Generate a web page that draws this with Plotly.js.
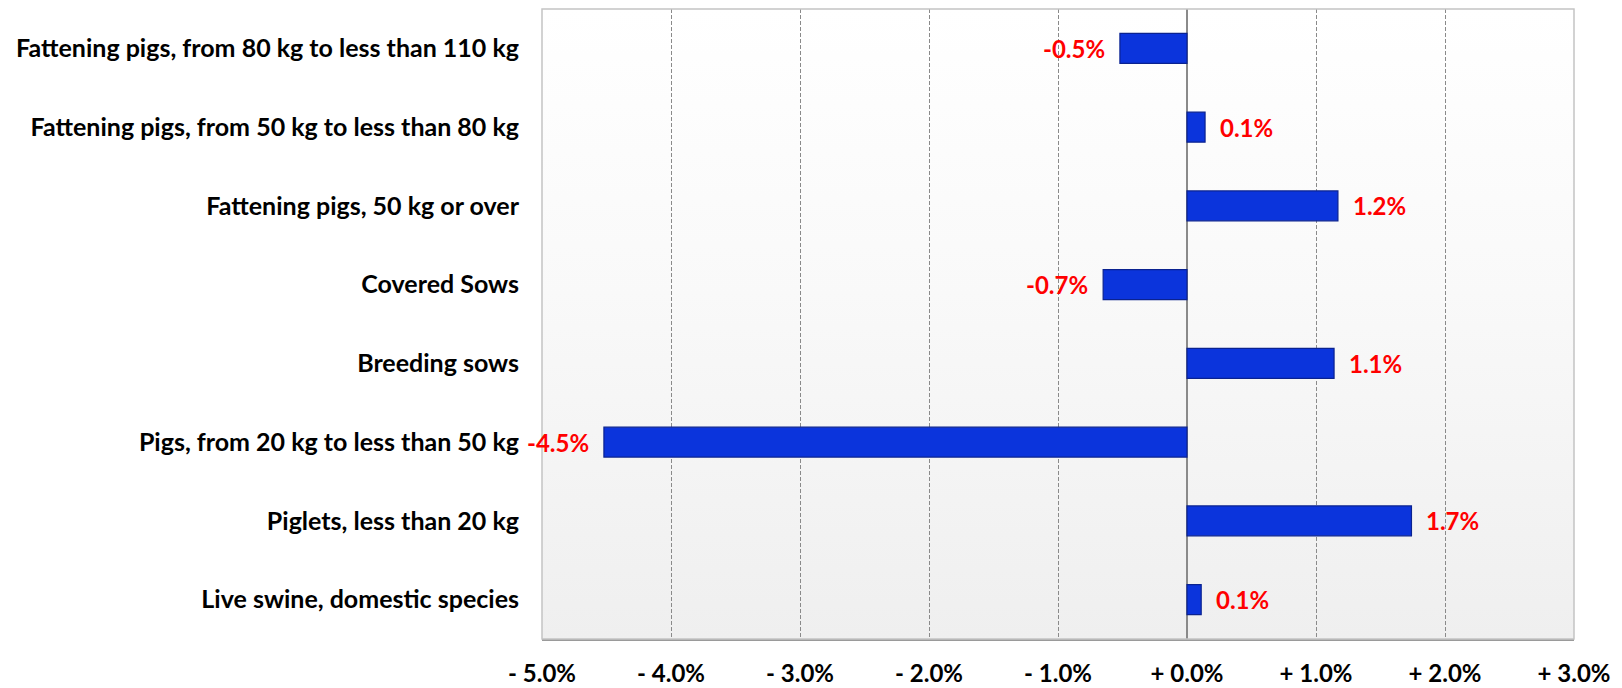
<!DOCTYPE html>
<html>
<head>
<meta charset="utf-8">
<script src="https://cdn.plot.ly/plotly-3.0.1.min.js"></script>
<style>
html,body{margin:0;padding:0;background:#fff;}
#chart{width:1622px;height:688px;}
</style>
</head>
<body>
<div id="chart"></div>
<script>
// Categories, top to bottom
const categories = [
  "Fattening pigs, from 80 kg to less than 110 kg",
  "Fattening pigs, from 50 kg to less than 80 kg",
  "Fattening pigs, 50 kg or over",
  "Covered Sows",
  "Breeding sows",
  "Pigs, from 20 kg to less than 50 kg",
  "Piglets, less than 20 kg",
  "Live swine, domestic species"
];
// Percentage change values
const values = [-0.52, 0.14, 1.17, -0.65, 1.14, -4.52, 1.74, 0.11];
// Data labels as printed
const labels = ["-0.5%", "0.1%", "1.2%", "-0.7%", "1.1%", "-4.5%", "1.7%", "0.1%"];
// X axis ticks
const tickValues = [-5, -4, -3, -2, -1, 0, 1, 2, 3];
const tickLabels = ["- 5.0%", "- 4.0%", "- 3.0%", "- 2.0%", "- 1.0%", "+ 0.0%", "+ 1.0%", "+ 2.0%", "+ 3.0%"];

const FONT = "Lato, 'Open Sans', sans-serif";

const trace = {
  type: "bar",
  orientation: "h",
  x: values,
  y: categories,
  width: 0.38,
  marker: {
    color: "#0b34dc",
    line: {color: "#0a2290", width: 1.2}
  },
  hoverinfo: "x+y"
};

const annotations = values.map((v, i) => ({
  x: v,
  y: categories[i],
  xref: "x",
  yref: "y",
  text: labels[i],
  showarrow: false,
  xanchor: v >= 0 ? "left" : "right",
  xshift: v >= 0 ? 13 : -13,
  font: {family: FONT, size: 24, color: "#ff0000", weight: "bold"}
}));

const gradSvg = "<svg xmlns='http://www.w3.org/2000/svg' width='10' height='100' preserveAspectRatio='none'>" +
  "<defs><linearGradient id='g' x1='0' y1='0' x2='0' y2='1'>" +
  "<stop offset='0' stop-color='#ffffff'/><stop offset='0.45' stop-color='#f9f9f9'/><stop offset='1' stop-color='#efefef'/>" +
  "</linearGradient></defs><rect width='10' height='100' fill='url(#g)'/></svg>";

const layout = {
  width: 1622,
  height: 688,
  margin: {l: 542, r: 48, t: 9, b: 49},
  paper_bgcolor: "#ffffff",
  plot_bgcolor: "rgba(0,0,0,0)",
  showlegend: false,
  font: {family: FONT, color: "#000"},
  xaxis: {
    range: [-5, 3],
    tickmode: "array",
    tickvals: tickValues,
    ticktext: tickLabels,
    tickfont: {family: FONT, size: 24, color: "#000", weight: "bold"},
    ticks: "",
    ticklabelstandoff: 12,
    showgrid: true,
    gridcolor: "#8a8a8a",
    griddash: "4px,2px",
    gridwidth: 1,
    zeroline: true,
    zerolinecolor: "#8a8a8a",
    zerolinewidth: 1.5,
    showline: true,
    linecolor: "#9a9a9a",
    linewidth: 2,
    fixedrange: true
  },
  yaxis: {
    autorange: "reversed",
    type: "category",
    tickfont: {family: FONT, size: 25, color: "#000", weight: "bold"},
    ticks: "",
    ticklabelstandoff: 22,
    showgrid: false,
    zeroline: false,
    showline: false,
    fixedrange: true
  },
  images: [{
    source: "data:image/svg+xml;charset=utf-8," + encodeURIComponent(gradSvg),
    xref: "paper", yref: "paper",
    x: 0, y: 1, sizex: 1, sizey: 1,
    xanchor: "left", yanchor: "top",
    sizing: "stretch",
    layer: "below"
  }],
  shapes: [{
    type: "rect", xref: "paper", yref: "paper",
    x0: 0, x1: 1, y0: 0, y1: 1,
    line: {color: "#c4c4c4", width: 1.5},
    fillcolor: "rgba(0,0,0,0)",
    layer: "above"
  }],
  annotations: annotations
};

Plotly.newPlot("chart", [trace], layout, {displayModeBar: false, staticPlot: true});
</script>
</body>
</html>
